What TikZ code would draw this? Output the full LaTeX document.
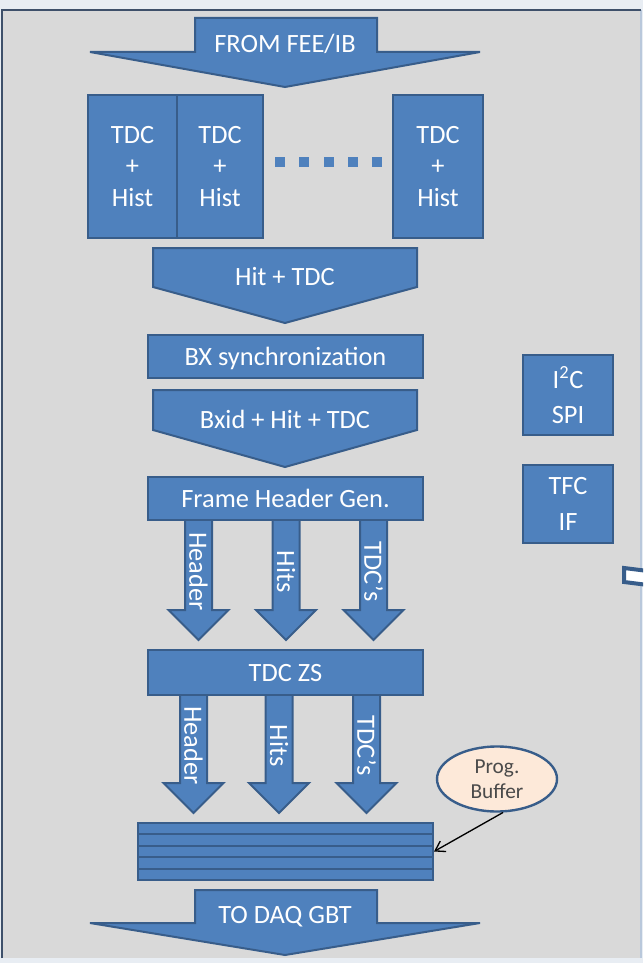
\documentclass[tikz,border=0pt]{standalone}
\usepackage{fontspec}
\setmainfont{Carlito}
\usetikzlibrary{shapes.geometric,arrows.meta}

\definecolor{blockfill}{HTML}{4F81BD}
\definecolor{blockline}{HTML}{385D8A}
\definecolor{panelfill}{HTML}{D9D9D9}
\definecolor{panelline}{HTML}{3E506A}
\definecolor{paneledge}{HTML}{B9C8DB}
\definecolor{pagefill}{HTML}{E8EDF3}
\definecolor{progfill}{HTML}{FDE9D9}
\definecolor{progtext}{HTML}{4A4A4A}

\tikzset{
  block/.style={draw=blockline, fill=blockfill, line width=1.5pt, text=white,
    align=center, inner sep=0pt, font=\fontsize{19.8}{23.8}\selectfont},
  oneline/.style={text height=12.8pt, text depth=0pt},
  blockshape/.style={draw=blockline, fill=blockfill, line width=1.5pt},
  blocklabel/.style={text=white, inner sep=0pt, font=\fontsize{19.8}{23.8}\selectfont},
  lanelabel/.style={blocklabel, rotate=-90},
  dotmark/.style={fill=blockfill, minimum size=7.5pt, inner sep=0pt},
}

\newcommand{\lanearrow}[5]{%
  \draw[blockshape] (#2-13.5,#3) -- (#2+13.5,#3) -- (#2+13.5,#4) -- (#2+30,#4)
    -- (#2,#4+30) -- (#2-30,#4) -- (#2-13.5,#4) -- cycle;
  \node[lanelabel] (#1) at (#2,{(#3+#4)/2+9}) {#5};
}

\begin{document}
\begin{tikzpicture}[x=0.75pt, y=-0.75pt]

  \useasboundingbox (0,0) rectangle (643,963);
  \clip (0,0) rectangle (643,963);
  \fill[pagefill] (0,0) rectangle (643,963);
  \fill[panelfill] (2,10) rectangle (641,958);
  \draw[paneledge, line width=1pt] (641,10) -- (641,958);
  \draw[panelline, line width=2.2pt] (2,958) -- (2,10) -- (641,10);

  \draw[blockshape] (195,18) -- (377,18) -- (377,52) -- (480,52) -- (285,87)
    -- (90,52) -- (195,52) -- cycle;
  \node[blocklabel, anchor=base] (fromfee) at (285,53) {FROM FEE/IB};

  \node[block, minimum width=66.75pt, minimum height=107.25pt] (tdcA) at (132.5,166.5) {TDC\\+\\Hist};
  \node[block, minimum width=64.5pt, minimum height=107.25pt] (tdcB) at (220,166.5) {TDC\\+\\Hist};
  \node[block, minimum width=67.5pt, minimum height=107.25pt] (tdcN) at (438,166.5) {TDC\\+\\Hist};

  \node[dotmark] (dotA) at (280,162) {};
  \node[dotmark] (dotB) at (304,162) {};
  \node[dotmark] (dotC) at (328.5,162) {};
  \node[dotmark] (dotD) at (353,162) {};
  \node[dotmark] (dotE) at (377,162) {};

  \draw[blockshape] (153,248) -- (417,248) -- (417,287) -- (285,323) -- (153,287) -- cycle;
  \node[blocklabel, anchor=base] (hittdc) at (285,285) {Hit + TDC};

  \node[block, oneline, minimum width=206.25pt, minimum height=32.25pt] (bxsync) at (285.5,356.5) {BX synchronization};

  \draw[blockshape] (153,390) -- (417,390) -- (417,430) -- (285,467) -- (153,430) -- cycle;
  \node[blocklabel, anchor=base] (bxidhit) at (285,428) {Bxid + Hit + TDC};

  \lanearrow{hdrA}{198.5}{515}{610}{Header}
  \lanearrow{hitsA}{286}{515}{610}{Hits}
  \lanearrow{tdcsA}{373.5}{515}{610}{TDC’s}

  \node[block, oneline, minimum width=206.25pt, minimum height=32.25pt] (framegen) at (285.5,498.5) {Frame Header Gen.};

  \lanearrow{hdrB}{193.5}{690}{783}{Header}
  \lanearrow{hitsB}{279}{690}{783}{Hits}
  \lanearrow{tdcsB}{366.5}{690}{783}{TDC’s}

  \node[block, oneline, minimum width=206.25pt, minimum height=33.75pt] (tdczs) at (285.5,672.5) {TDC ZS};

  \node[block, minimum width=221.25pt, minimum height=42.75pt] (buffer) at (285.5,851.5) {};
  \draw[blockline, line width=1.5pt] (138,834.4) -- (433,834.4);
  \draw[blockline, line width=1.5pt] (138,845.8) -- (433,845.8);
  \draw[blockline, line width=1.5pt] (138,857.2) -- (433,857.2);
  \draw[blockline, line width=1.5pt] (138,868.6) -- (433,868.6);

  \draw[blockshape] (195,890) -- (377,890) -- (377,923) -- (480,923) -- (285,955)
    -- (90,923) -- (195,923) -- cycle;
  \node[blocklabel, anchor=base] (todaq) at (285,923) {TO DAQ GBT};

  \node[block, minimum width=67.5pt, minimum height=60pt,
    font=\fontsize{19.8}{26.5}\selectfont] (i2cspi) at (568,395) {I\textsuperscript{2}C\\SPI};
  \node[block, minimum width=67.5pt, minimum height=58.5pt,
    font=\fontsize{19.8}{27.5}\selectfont] (tfcif) at (568,504) {TFC\\IF};

  \draw[blockline, line width=3pt, fill=white] (624,568) -- (648,571) -- (648,585) -- (624,582) -- cycle;

  \node[ellipse, draw=blockline, fill=progfill, line width=1.8pt, minimum width=90pt,
    minimum height=48.75pt, inner sep=0pt, align=center, text=progtext,
    font=\fontsize{16}{19}\selectfont] (prog) at (497,779) {Prog.\\Buffer};
  \draw[-{Straight Barb[length=7pt,width=9pt]}, line width=1pt] (prog.280) -- (buffer.east);

\end{tikzpicture}
\end{document}
